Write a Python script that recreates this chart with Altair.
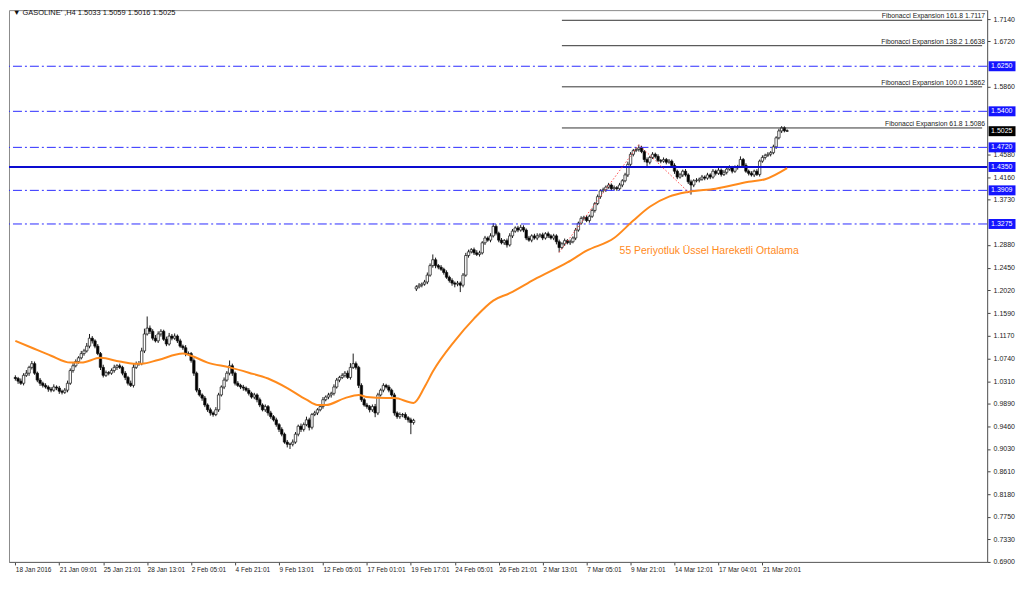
import altair as alt
import pandas as pd

W, H = 982, 554
X_MIN, X_MAX = -0.5, 352
Y_MIN, Y_MAX = 0.690, 1.7309

# ---- close prices, old contract (18 Jan .. 19 Feb) ----
close_a = [
    1.036, 1.031, 1.027, 1.042, 1.046, 1.057, 1.064, 1.046, 1.033, 1.027,
    1.023, 1.020, 1.016, 1.014, 1.020, 1.018, 1.012, 1.010, 1.014, 1.027,
    1.051, 1.060, 1.068, 1.075, 1.083, 1.088, 1.097, 1.112, 1.107, 1.097,
    1.083, 1.057, 1.042, 1.047, 1.046, 1.051, 1.057, 1.060, 1.057, 1.046,
    1.038, 1.027, 1.023, 1.057, 1.064, 1.064, 1.088, 1.120, 1.131, 1.125,
    1.112, 1.107, 1.120, 1.125, 1.110, 1.101, 1.116, 1.112, 1.116, 1.107,
    1.097, 1.094, 1.083, 1.083, 1.070, 1.046, 1.014, 1.005, 0.999, 0.986,
    0.977, 0.971, 0.968, 0.977, 1.005, 1.020, 1.033, 1.046, 1.060, 1.046,
    1.027, 1.023, 1.020, 1.018, 1.014, 1.008, 1.001, 1.005, 0.996, 0.986,
    0.977, 0.983, 0.971, 0.964, 0.958, 0.949, 0.940, 0.931, 0.916, 0.912,
    0.912, 0.916, 0.931, 0.946, 0.940, 0.949, 0.958, 0.944, 0.968, 0.971,
    0.977, 0.983, 0.996, 1.001, 1.005, 1.008, 1.020, 1.033, 1.038, 1.042,
    1.046, 1.038, 1.057, 1.064, 1.057, 1.023, 0.996, 0.986, 0.983, 0.977,
    0.983, 0.971, 1.005, 1.014, 1.023, 1.020, 1.014, 1.005, 0.971, 0.964,
    0.968, 0.968, 0.962, 0.958, 0.953, 0.957,
]
# ---- close prices, new contract (19 Feb .. 22 Mar) ----
close_b = [
    1.209, 1.212, 1.214, 1.218, 1.231, 1.249, 1.260, 1.249, 1.246, 1.242,
    1.236, 1.227, 1.221, 1.216, 1.214, 1.216, 1.212, 1.231, 1.268, 1.275,
    1.279, 1.273, 1.270, 1.273, 1.292, 1.301, 1.297, 1.305, 1.323, 1.310,
    1.297, 1.292, 1.296, 1.288, 1.305, 1.314, 1.320, 1.316, 1.321, 1.316,
    1.301, 1.297, 1.305, 1.301, 1.305, 1.307, 1.301, 1.309, 1.305, 1.301,
    1.305, 1.294, 1.283, 1.290, 1.296, 1.292, 1.294, 1.301, 1.316, 1.329,
    1.338, 1.340, 1.334, 1.342, 1.353, 1.366, 1.379, 1.390, 1.392, 1.397,
    1.401, 1.394, 1.396, 1.394, 1.401, 1.409, 1.420, 1.440, 1.459, 1.466,
    1.468, 1.471, 1.464, 1.449, 1.444, 1.453, 1.459, 1.455, 1.447, 1.446,
    1.449, 1.444, 1.446, 1.438, 1.427, 1.416, 1.420, 1.427, 1.420, 1.407,
    1.401, 1.409, 1.410, 1.412, 1.416, 1.414, 1.420, 1.416, 1.427, 1.423,
    1.429, 1.421, 1.425, 1.431, 1.434, 1.427, 1.434, 1.436, 1.449, 1.438,
    1.427, 1.423, 1.420, 1.427, 1.421, 1.446, 1.453, 1.457, 1.459, 1.462,
    1.473, 1.490, 1.503, 1.509, 1.5033, 1.5025,
]
first_open_a = 1.038
first_open_b = 1.205

# upper / lower shadow lengths, in thousandths of a price unit
wick_up = [
    4, 3, 5, 4, 6, 3, 5, 4, 3, 4, 3, 4, 3, 4, 5, 3, 4, 3, 4, 5,
    4, 5, 4, 3, 5, 4, 6, 8, 4, 3, 4, 3, 5, 4, 3, 4, 5, 3, 4, 3,
    4, 3, 5, 6, 4, 5, 6, 10, 22, 5, 4, 6, 5, 4, 3, 5, 6, 4, 5, 3,
    4, 3, 5, 4, 3, 4, 3, 4, 3, 4, 3, 4, 3, 5, 4, 3, 5, 4, 10, 4,
    3, 4, 3, 4, 3, 4, 3, 4, 3, 4, 3, 4, 3, 4, 3, 4, 3, 4, 3, 4,
    3, 5, 4, 3, 5, 4, 6, 4, 3, 4, 3, 4, 5, 3, 4, 3, 5, 4, 3, 4,
    4, 5, 8, 19, 4, 3, 4, 3, 4, 3, 4, 5, 4, 3, 4, 3, 4, 3, 4, 3,
    4, 3, 4, 3, 4, 3,
    3, 4, 3, 4, 5, 4, 10, 4, 3, 4, 3, 4, 3, 4, 3, 4, 3, 4, 5, 4,
    3, 4, 5, 4, 3, 4, 3, 5, 6, 4, 3, 4, 3, 4, 5, 4, 3, 4, 5, 4,
    3, 4, 3, 4, 5, 3, 4, 3, 4, 3, 4, 3, 4, 3, 4, 3, 4, 3, 4, 3,
    4, 3, 4, 3, 4, 3, 4, 3, 4, 3, 4, 3, 4, 3, 4, 3, 4, 5, 4, 3,
    4, 6, 4, 3, 4, 3, 4, 3, 4, 3, 4, 3, 4, 3, 4, 3, 4, 3, 4, 3,
    4, 3, 4, 3, 4, 3, 4, 3, 4, 3, 4, 3, 4, 3, 4, 3, 4, 3, 6, 3,
    4, 3, 4, 3, 4, 3, 4, 3, 4, 3, 4, 3, 4, 3, 2.6, 2.6,
]
wick_dn = [
    4, 5, 3, 4, 3, 5, 4, 3, 4, 5, 4, 3, 5, 4, 3, 4, 5, 4, 3, 4,
    3, 4, 3, 4, 3, 4, 3, 4, 5, 4, 3, 5, 4, 3, 4, 3, 4, 5, 3, 4,
    5, 4, 3, 4, 3, 4, 3, 4, 3, 5, 4, 3, 4, 5, 3, 4, 3, 4, 3, 4,
    3, 4, 5, 3, 4, 5, 4, 3, 5, 4, 4, 5, 4, 3, 4, 3, 4, 3, 4, 5,
    4, 3, 4, 5, 3, 4, 3, 4, 5, 4, 3, 4, 5, 4, 3, 4, 5, 4, 3, 6,
    9, 4, 3, 4, 5, 4, 3, 6, 4, 3, 4, 3, 4, 3, 4, 5, 4, 3, 4, 3,
    4, 3, 4, 3, 4, 5, 4, 3, 4, 5, 4, 8, 4, 3, 4, 3, 4, 3, 5, 4,
    4, 5, 4, 5, 22, 4,
    4, 3, 4, 3, 4, 3, 4, 5, 4, 3, 4, 3, 4, 5, 6, 4, 13, 4, 3, 4,
    3, 4, 3, 4, 3, 4, 3, 4, 3, 4, 4, 3, 4, 5, 3, 4, 3, 4, 3, 4,
    4, 3, 4, 3, 4, 3, 4, 3, 4, 3, 4, 5, 9, 3, 4, 3, 4, 3, 4, 3,
    3, 4, 3, 4, 3, 4, 3, 4, 3, 4, 3, 4, 3, 4, 3, 4, 3, 4, 3, 4,
    3, 4, 3, 5, 8, 4, 3, 4, 3, 4, 3, 4, 3, 4, 5, 4, 3, 4, 3, 4,
    18, 4, 3, 4, 3, 4, 3, 4, 3, 4, 3, 4, 3, 4, 3, 4, 3, 4, 3, 4,
    3, 4, 3, 4, 3, 4, 3, 4, 3, 4, 3, 4, 3, 4, 3, 0.9,
]

# 55-period EMA: (bar index, value)
ema_idx = [0, 6, 13, 20, 24, 31, 38, 43, 46, 52, 61, 64, 70, 78, 85, 92, 99, 106,
           110, 113, 120, 125, 128, 135, 138, 145, 149, 152, 160, 167, 174, 180,
           189, 201, 208, 218, 225, 231, 238, 245, 255, 267, 273, 281]
ema_val = [1.107, 1.094, 1.079, 1.066, 1.066, 1.075, 1.068, 1.064, 1.064, 1.071,
           1.083, 1.079, 1.066, 1.057, 1.047, 1.036, 1.018, 0.996, 0.986, 0.986,
           0.999, 1.005, 1.001, 0.999, 0.999, 0.990, 1.020, 1.049, 1.107, 1.149,
           1.183, 1.197, 1.223, 1.255, 1.277, 1.301, 1.334, 1.360, 1.379, 1.388,
           1.394, 1.407, 1.412, 1.433]

# zig-zag A-B-C used for the Fibonacci expansion
zz_idx = [198, 227, 246]
zz_val = [1.274, 1.477, 1.383]

fib_names = ["Fibonacci Expansion 161.8", "Fibonacci Expansion 138.2",
             "Fibonacci Expansion 100.0", "Fibonacci Expansion 61.8"]
fib_vals = [1.7117, 1.6638, 1.5862, 1.5086]
fib_start = 199

dash_levels = [1.6250, 1.5400, 1.4720, 1.3909, 1.3275]
solid_level = 1.4350
last_price = 1.5025

y_ticks = [1.7140, 1.6720, 1.5860, 1.4580, 1.4160, 1.3730, 1.2880, 1.2450, 1.2020,
           1.1590, 1.1170, 1.0740, 1.0310, 0.9890, 0.9460, 0.9030, 0.8610, 0.8180,
           0.7750, 0.7330, 0.6900]
x_labels = ["18 Jan 2016", "21 Jan 09:01", "25 Jan 21:01", "28 Jan 13:01", "2 Feb 05:01",
            "4 Feb 21:01", "9 Feb 13:01", "12 Feb 05:01", "17 Feb 01:01", "19 Feb 17:01",
            "24 Feb 05:01", "26 Feb 21:01", "2 Mar 13:01", "7 Mar 05:01", "9 Mar 21:01",
            "14 Mar 12:01", "17 Mar 04:01", "21 Mar 20:01"]
bars_per_label = 16

title_text = "\u25bc GASOLINE' ,H4  1.5033 1.5059 1.5016 1.5025"
ema_text = "55 Periyotluk \u00dcssel Hareketli Ortalama"
ema_text_pos = (220, 1.277)

# ---------------- build tables ----------------
closes = close_a + close_b
opens = [first_open_a] + closes[:-1]
opens[len(close_a)] = first_open_b
rows = []
for i, (o, c, wu, wd) in enumerate(zip(opens, closes, wick_up, wick_dn)):
    rows.append({"i": i, "o": o, "c": c,
                 "h": max(o, c) + wu / 1000.0,
                 "l": min(o, c) - wd / 1000.0})
candles = pd.DataFrame(rows)

xs = alt.Scale(domain=[X_MIN, X_MAX], nice=False, zero=False)
ys = alt.Scale(domain=[Y_MIN, Y_MAX], nice=False, zero=False)

FONT = "Liberation Sans"
label_expr = "[" + ",".join("'%s'" % s for s in x_labels) + "][round(datum.value/%d)]" % bars_per_label

x_axis = alt.Axis(values=[k * bars_per_label for k in range(len(x_labels))],
                  labelExpr=label_expr, labelAlign="left", labelFontSize=6.5,
                  labelFont=FONT, labelColor="#222", labelPadding=2, tickSize=3,
                  tickColor="#444", domainColor="#666", grid=False, title=None,
                  labelOverlap=False, labelFlush=False)
y_axis = alt.Axis(orient="right", values=y_ticks, format=".4f", labelFontSize=7,
                  labelFont=FONT, labelColor="#222", labelPadding=3, tickSize=3,
                  tickColor="#444", domainColor="#666", grid=False, title=None,
                  labelOverlap=False)


def X(field):
    return alt.X(field, scale=xs, axis=x_axis)


def Y(field):
    return alt.Y(field, scale=ys, axis=y_axis)


base = alt.Chart(candles)
wicks = base.mark_rule(color="#1a1a1a", strokeWidth=1).encode(
    x=X("i:Q"), y=Y("l:Q"), y2="h:Q")
bodies = base.mark_bar(width=2.4, stroke="#111", strokeWidth=0.7).encode(
    x=X("i:Q"), y=Y("o:Q"), y2="c:Q",
    fill=alt.condition("datum.c >= datum.o", alt.value("#ffffff"), alt.value("#000000")),
)

lv = pd.DataFrame({"v": dash_levels})
dash_lines = alt.Chart(lv).mark_rule(color="#2b2bff", strokeWidth=1, strokeDash=[9, 3, 2, 3]).encode(
    y=Y("v:Q"))
solid_line = alt.Chart(pd.DataFrame({"v": [solid_level]})).mark_rule(
    color="#0c0cd0", strokeWidth=2).encode(y=Y("v:Q"))

fib_df = pd.DataFrame({"v": fib_vals, "name": fib_names,
                       "txt": ["%s    %.4f" % (n, v) for n, v in zip(fib_names, fib_vals)],
                       "x0": [fib_start] * 4, "x1": [X_MAX] * 4})
fib_lines = alt.Chart(fib_df).mark_rule(color="#333", strokeWidth=1).encode(
    x=X("x0:Q"), x2="x1:Q", y=Y("v:Q"))
fib_text = alt.Chart(fib_df).mark_text(align="right", baseline="bottom", dy=-1,
                                       fontSize=6.8, font=FONT, color="#222").encode(
    x=alt.value(W - 2), y=Y("v:Q"), text="txt:N")

ema_df = pd.DataFrame({"i": ema_idx, "v": ema_val})
ema_line = alt.Chart(ema_df).mark_line(color="#ff8a1c", strokeWidth=2, interpolate="monotone").encode(
    x=X("i:Q"), y=Y("v:Q"))

zz_df = pd.DataFrame({"i": zz_idx, "v": zz_val})
zz_line = alt.Chart(zz_df).mark_line(color="#ff4a4a", strokeWidth=1, strokeDash=[1.5, 2]).encode(
    x=X("i:Q"), y=Y("v:Q"))

ema_lbl = alt.Chart(pd.DataFrame({"i": [ema_text_pos[0]], "v": [ema_text_pos[1]], "t": [ema_text]})).mark_text(
    align="left", baseline="middle", fontSize=10.5, font="Liberation Sans Narrow, Liberation Sans",
    color="#ff8a1c").encode(x=X("i:Q"), y=Y("v:Q"), text="t:N")

title = alt.Chart(pd.DataFrame({"t": [title_text]})).mark_text(
    align="left", baseline="middle", fontSize=7.5, font=FONT, color="#111").encode(
    x=alt.value(4), y=alt.value(3), text="t:N")

tag_df = pd.DataFrame({"v": dash_levels + [solid_level, last_price],
                       "t": ["%.4f" % v for v in dash_levels + [solid_level, last_price]],
                       "k": ["blue"] * (len(dash_levels) + 1) + ["last"]})
tag_box = alt.Chart(tag_df).mark_tick(orient="horizontal", size=27, thickness=10, opacity=1).encode(
    x=alt.value(W + 15), y=Y("v:Q"),
    color=alt.Color("k:N", scale=alt.Scale(domain=["blue", "last"], range=["#1414ff", "#000000"]), legend=None))
tag_txt = alt.Chart(tag_df).mark_text(align="left", baseline="middle", fontSize=7, font=FONT,
                                      color="white").encode(
    x=alt.value(W + 4), y=Y("v:Q"), text="t:N")

chart = alt.layer(
    wicks, bodies, dash_lines, solid_line, fib_lines, fib_text, ema_line, zz_line,
    ema_lbl, title, tag_box, tag_txt,
).properties(
    width=W, height=H, padding={"left": 0, "top": 0, "right": 0, "bottom": 0},
    background="white",
).configure_view(stroke="#8a8a8a", strokeWidth=1)

chart.save("out.html", embed_options={"renderer": "svg", "actions": False})
